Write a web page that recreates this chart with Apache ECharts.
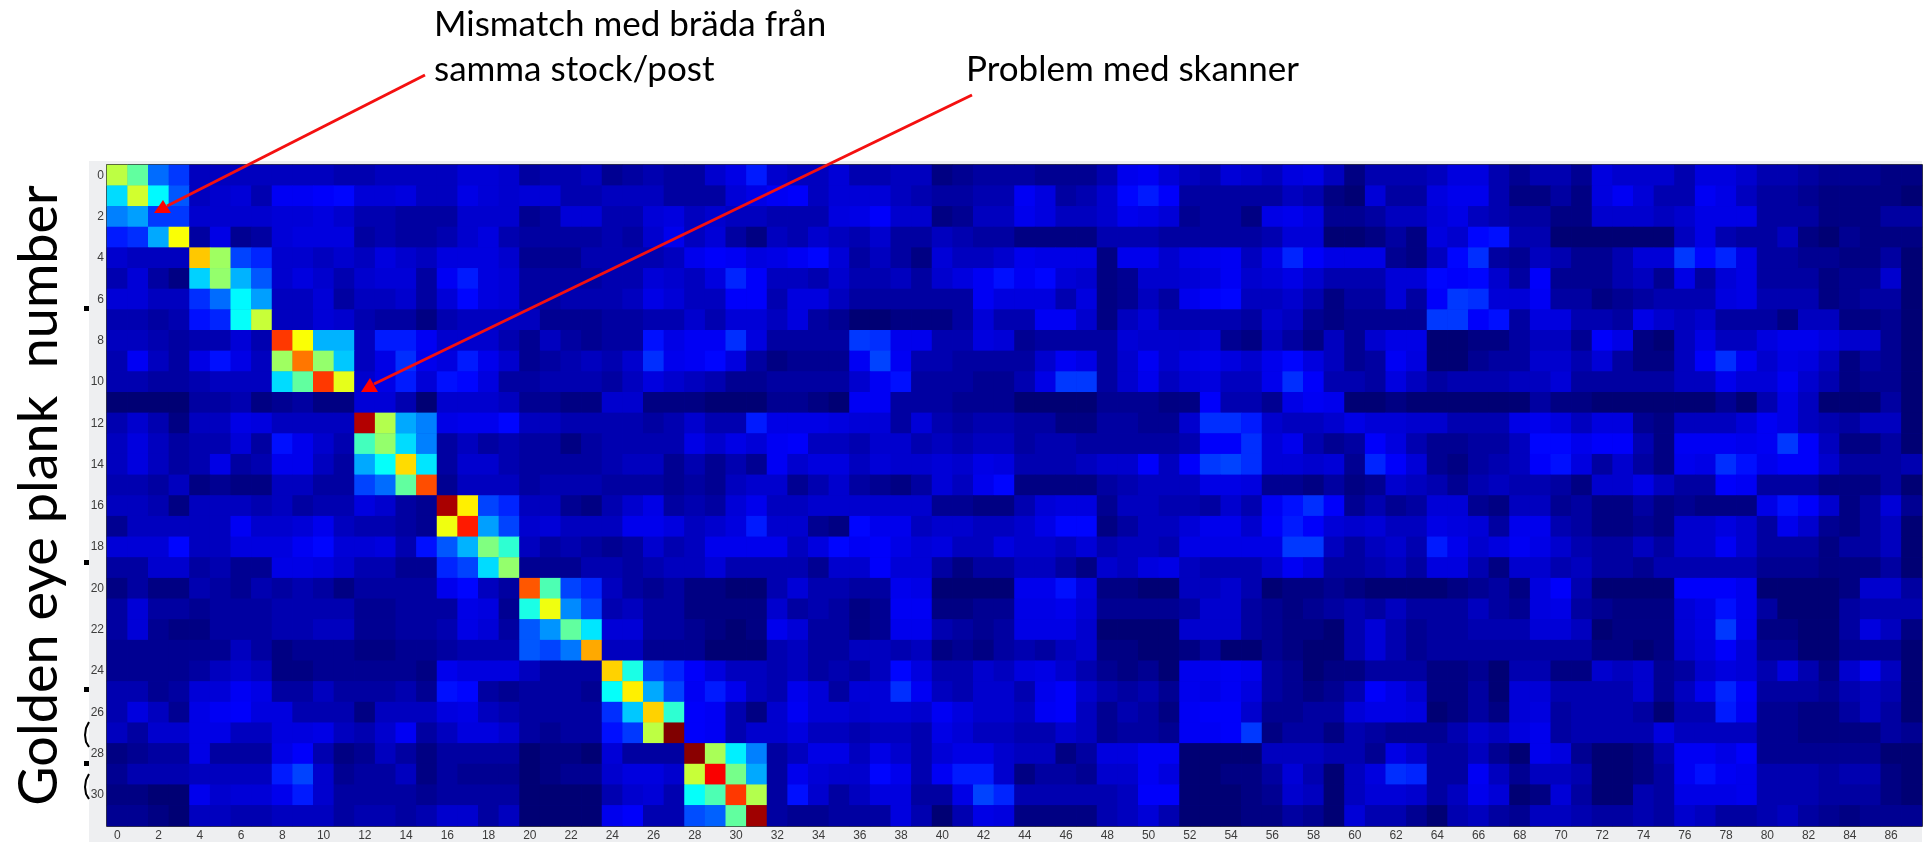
<!DOCTYPE html>
<html>
<head>
<meta charset="utf-8">
<title>Golden eye plank number</title>
<script src="https://cdn.jsdelivr.net/npm/echarts@6/dist/echarts.min.js"></script>
<style>
  html, body { margin: 0; padding: 0; background: #fff; }
  #chart { width: 1927px; height: 842px; }
</style>
</head>
<body>
<div id="chart"></div>
<script>
// values, 0-100 on the jet scale, one array per plank (row)
const row00 = [56,47,23,18, 5,5,5,5,5,5,5,4,4,5,5,5,5,7,7,6,3,4,4,5,2,3,4,3,3, 6,9,15,6,5,5,7,4,4,5,5,1,2,3,3,3,2,2,2,4,10,11,7,5,4,7,6,5,8,9, 5,1,4,4,4,5,8,8,4,2,4,4,2,8,6,6,6,4,8,8,6,4,4,3,2,2,2,1,1];
const row01 = [34,58,37,21, 5,6,7,4,11,11,12,13,7,7,8,5,5,9,7,6,7,7,4,4,5,5,5,3,3, 3,7,9,11,12,5,7,7,7,5,4,3,3,4,4,11,8,3,4,6,13,15,12,3,3,3,3,3,5,4, 1,0,7,3,3,8,10,10,4,1,1,3,1,8,11,7,4,4,11,9,5,3,3,2,1,1,1,1,0];
const row02 = [25,28,18,18, 6,6,6,6,7,7,8,6,4,4,3,3,3,6,6,6,2,3,7,7,4,4,7,8,5, 6,5,5,4,4,4,8,9,12,6,6,1,2,5,5,10,8,5,5,6,10,9,7,2,3,3,1,9,10,8, 2,2,3,5,5,7,9,5,4,3,3,1,1,6,6,6,5,6,9,9,9,3,3,3,1,1,1,3,3];
const row03 = [15,17,29,62, 3,9,2,3,7,8,8,8,3,4,3,3,4,6,8,4,3,3,3,3,4,3,6,10,5, 7,3,1,5,4,6,5,4,6,3,3,5,4,3,3,1,1,1,1,4,4,4,3,3,3,3,3,4,7,7, 0,0,1,3,1,8,6,13,14,4,4,0,0,0,0,0,0,5,9,4,3,3,5,1,0,2,1,1,1];
const row04 = [6,5,5,5, 68,53,19,16, 6,6,5,6,5,8,6,5,8,8,8,6,2,2,2,4,4,4,4,5,10, 12,11,8,9,11,13,7,3,5,3,1,7,5,5,6,10,9,9,9,1,10,10,6,9,10,11,5,9,16,12, 9,9,9,2,1,5,13,17,3,2,5,4,2,2,4,7,7,18,13,16,9,3,3,2,2,1,1,3,0];
const row05 = [4,7,3,1, 33,52,30,21, 6,8,6,4,6,7,7,3,11,15,8,7,3,3,3,3,4,4,7,6,5, 8,16,12,5,5,4,6,4,4,5,3,6,8,11,14,11,13,7,6,1,2,6,6,7,8,11,6,7,9,6, 4,4,4,7,7,13,12,13,6,3,12,2,2,2,4,5,2,9,3,7,9,3,3,3,1,2,2,6,0];
const row06 = [7,7,5,5, 17,23,37,28, 5,5,7,3,5,5,6,3,7,13,8,7,3,3,4,4,4,5,9,7,5, 5,12,12,4,8,8,5,3,3,3,3,3,3,11,8,8,8,4,8,1,2,5,3,10,12,13,5,5,6,4, 1,3,3,7,3,12,18,17,7,7,11,3,3,1,2,3,4,4,4,8,9,4,4,4,1,2,3,3,0];
const row07 = [4,4,3,4, 14,16,38,57, 5,5,7,6,4,3,3,1,4,5,5,5,5,2,2,2,3,3,4,4,6, 4,7,7,5,8,3,2,0,0,1,1,1,3,7,4,4,11,11,6,1,5,7,4,4,4,4,3,6,5,2, 1,2,2,2,2,18,18,12,14,3,8,8,4,4,3,9,6,5,6,3,3,3,1,5,5,1,1,2,0];
const row08 = [5,5,4,3,4,4,7,4, 82,62,30,30, 5,15,15,11,6,6,6,4,2,5,3,2,3,3,14,9,11, 11,17,8,3,3,3,3,18,17,10,10,4,4,8,7,2,3,3,3,3,7,6,6,6,7,2,1,5,3,1, 5,2,6,9,9,0,0,1,1,3,5,5,2,12,9,1,0,5,9,5,5,8,10,10,8,6,6,2,0];
const row09 = [4,11,5,3,9,14,9,5, 53,76,52,32, 5,9,17,10,8,15,10,6,2,3,4,5,4,6,17,10,11, 13,8,3,1,2,2,2,11,19,11,4,4,3,3,3,3,6,11,9,3,6,11,6,9,10,8,6,10,13,8, 5,2,3,11,8,0,0,2,3,3,6,6,4,7,3,1,1,5,12,17,11,6,9,8,5,1,3,2,0];
const row10 = [4,4,3,3,4,5,5,5, 34,47,82,60, 6,9,15,7,14,13,8,3,3,4,4,4,3,5,8,6,5, 4,2,2,3,3,3,3,6,11,14,3,3,3,2,2,4,9,18,18,3,6,10,5,7,8,5,5,10,17,12, 4,4,3,8,5,3,4,4,4,5,5,7,3,3,3,3,3,5,5,10,7,7,11,6,4,1,2,2,0];
const row11 = [0,0,0,0,3,3,4,1,2,3,1,1, 7,7,4,0,6,6,6,5,2,2,1,1,6,6,1,1,1, 0,0,0,2,2,1,0,11,11,3,3,3,2,2,2,0,0,0,0,2,2,2,1,1,12,4,4,2,9,11, 10,0,0,1,0,0,0,0,0,0,3,1,1,0,0,0,0,0,0,2,0,4,9,5,0,0,0,3,0];
const row12 = [4,6,4,1,5,5,9,8,5,5,5,5, 95,55,29,25, 9,10,10,13,5,5,4,4,4,4,3,4,6, 4,4,15,9,9,9,8,7,7,3,7,4,3,4,4,3,3,1,1,3,3,2,2,6,17,17,15,6,5,5, 6,9,7,7,6,6,4,4,4,9,10,8,5,8,8,2,1,5,5,5,7,11,9,5,4,3,5,5,0];
const row13 = [5,8,5,3,4,4,7,3,14,10,6,4, 44,52,34,25, 3,5,3,4,3,3,1,3,4,4,4,4,9, 6,9,7,11,12,5,5,4,6,6,4,5,4,5,5,3,4,4,3,3,3,3,3,4,12,12,17,7,10,4, 2,3,12,8,4,2,2,3,3,5,13,13,10,12,12,4,1,11,11,11,10,11,18,12,5,1,1,3,0];
const row14 = [5,8,5,3,4,9,3,4,10,10,5,3, 29,38,66,35, 3,6,6,4,3,3,3,3,4,5,5,2,4, 2,4,2,11,6,8,8,5,7,6,6,7,6,9,8,4,4,4,5,6,6,12,5,12,18,19,17,7,7,6, 7,2,16,12,7,2,1,3,4,5,12,14,8,3,6,3,1,10,9,17,14,10,12,12,6,3,3,3,4];
const row15 = [4,4,3,5,1,2,1,1,5,5,3,3, 19,23,47,80, 2,5,5,5,3,4,4,4,3,3,3,2,3, 2,5,6,6,2,4,6,3,2,1,3,7,5,10,13,1,1,1,1,3,4,5,5,5,9,9,8,2,2,1, 3,1,2,6,5,4,2,4,5,4,4,3,1,6,6,9,5,3,3,12,11,3,3,3,1,1,1,3,0];
const row16 = [5,5,4,1,5,5,5,4,5,3,4,4,8,6,3,2, 96,64,19,16, 5,5,2,1,4,6,9,3,4, 3,7,10,5,5,6,6,6,6,6,6,2,2,1,1,4,7,8,8,2,5,5,4,4,3,6,4,11,14,17, 12,2,4,2,3,7,7,2,1,5,5,2,3,1,1,3,1,2,1,1,1,9,14,12,6,1,3,7,2];
const row17 = [2,5,5,5,5,5,11,6,6,7,10,5,4,4,3,2, 61,85,28,19, 6,7,5,5,5,10,10,8,5, 6,8,15,6,6,2,1,13,10,10,5,6,6,5,5,6,9,13,13,1,3,5,5,7,10,10,6,12,15,12, 7,6,7,5,5,9,8,7,3,10,10,4,3,1,1,2,1,6,6,8,6,3,10,6,2,1,3,5,0];
const row18 = [7,7,7,13,5,5,8,8,8,11,13,7,7,8,4,14, 21,30,50,42, 5,3,4,3,2,3,6,4,5, 10,10,10,10,5,8,13,11,12,9,7,8,5,5,8,6,6,5,7,4,5,5,4,9,9,9,9,9,18,18, 5,3,5,6,4,15,10,6,8,11,9,6,4,3,3,5,3,6,6,11,6,3,3,3,1,3,3,5,0];
const row19 = [3,3,6,6,3,4,2,2,9,9,8,6,4,4,2,2, 16,19,34,52, 2,2,2,4,4,3,4,5,5, 7,4,4,4,4,2,6,6,12,7,7,3,1,3,3,5,5,3,1,6,5,8,9,5,4,4,4,6,11,8, 3,3,4,5,3,8,8,4,1,6,6,4,5,3,3,2,4,4,4,4,4,2,2,2,1,1,1,3,0];
const row20 = [1,3,1,1,4,3,2,4,3,4,3,1,3,3,3,3,10,13,5,3, 79,45,19,16, 5,3,2,3,1, 1,0,0,4,7,4,4,3,3,10,9,0,0,0,0,10,10,14,8,1,1,0,0,5,5,6,4,0,1,1, 2,1,0,0,0,0,1,2,3,1,8,12,4,0,0,0,0,12,12,12,10,0,0,0,0,1,6,6,3];
const row21 = [3,7,3,3,2,3,3,3,4,4,4,4,2,2,3,3,3,9,8,2, 40,61,26,19, 4,5,3,3,1, 1,1,1,6,3,4,3,1,2,11,11,1,1,2,2,9,9,10,7,2,2,2,2,3,6,6,3,2,1,2, 3,4,3,5,3,3,3,5,3,2,8,9,3,2,1,1,1,7,9,14,10,3,0,0,0,3,4,4,4];
const row22 = [3,7,2,1,1,3,3,3,4,4,5,5,2,2,3,3,4,9,7,3, 21,27,47,35, 7,7,3,3,2, 1,0,1,10,7,3,3,1,2,10,10,4,3,2,3,9,9,9,6,0,0,0,0,6,6,6,3,2,1,1, 0,4,7,4,2,3,3,4,4,4,7,7,5,0,1,1,1,7,9,18,10,1,1,0,0,3,8,5,1];
const row23 = [2,2,2,2,2,2,5,3,1,2,2,2,1,1,2,2,3,4,4,4, 21,19,24,71, 5,5,2,2,2, 0,0,0,4,5,3,3,5,5,4,5,1,2,1,3,4,3,5,6,1,1,0,0,1,3,0,0,2,1,0, 0,4,7,4,2,3,3,3,3,3,3,3,3,1,1,0,1,6,8,12,7,2,2,0,0,2,2,2,0];
const row24 = [2,2,2,2,3,5,6,5,1,1,2,2,2,2,2,1,10,8,8,8,5,3,3,3, 67,40,19,16, 12, 8,5,5,4,5,3,4,3,5,13,8,4,4,6,5,8,9,6,4,2,1,2,0,10,10,11,10,3,2,0, 1,1,3,3,3,1,1,2,0,4,4,1,1,6,5,6,2,3,6,8,7,4,8,4,1,6,11,5,0];
const row25 = [4,4,2,3,7,7,11,9,3,3,5,3,3,3,4,2,14,13,3,2,3,3,3,2, 38,64,29,19, 11, 15,10,5,4,10,7,3,7,7,17,11,5,4,6,6,4,10,12,6,4,3,4,2,10,9,11,8,3,2,1, 2,4,12,9,6,1,1,3,0,7,7,4,4,4,4,6,2,5,10,16,12,3,3,3,2,4,5,4,0];
const row26 = [4,8,5,2,9,11,12,8,8,4,4,4,1,5,5,5,8,9,5,4,3,3,3,3, 17,32,67,42, 12, 11,4,1,6,11,7,7,6,7,7,6,11,8,6,6,5,11,12,5,2,4,3,1,11,12,12,6,2,2,3, 3,7,9,9,8,0,1,3,1,7,8,3,4,4,4,3,0,4,4,15,11,2,2,1,1,3,5,3,0];
const row27 = [5,3,6,6,9,9,5,5,8,8,9,5,4,6,11,3,5,8,8,6,3,2,3,3, 14,18,56,100, 12, 11,4,6,6,8,5,5,4,5,5,4,9,7,5,5,4,4,6,5,2,3,3,2,11,11,12,18,1,3,3, 1,4,3,2,2,2,4,6,5,8,10,3,4,4,4,4,8,5,5,5,5,2,2,1,1,1,1,3,2];
const row28 = [1,2,3,3,9,3,3,3,9,12,4,1,2,5,3,1,3,3,3,3,0,1,1,0,7,3,3,3, 99,54,36,25, 3,5,9,9,5,9,6,4,7,9,9,6,5,5,1,3,8,8,11,11,0,0,0,0,5,5,5, 4,4,2,9,6,3,3,5,2,0,10,8,2,0,0,1,4,11,11,9,12,2,2,2,2,2,2,0,0];
const row29 = [2,4,4,4,5,5,5,5,15,19,6,2,3,3,5,1,3,2,2,2,0,1,2,2,6,8,8,6, 57,88,49,29, 3,10,7,6,6,13,10,4,11,15,15,6,1,3,3,2,6,6,11,8,0,0,1,1,3,7,4, 0,5,8,17,16,3,3,11,5,2,5,5,4,0,0,1,3,11,14,11,10,4,4,4,3,4,4,1,0];
const row30 = [1,1,0,0,10,6,7,7,10,15,6,3,3,3,3,2,3,3,3,3,0,0,0,0,4,6,7,4, 38,45,82,55, 3,14,6,3,5,8,8,3,3,9,19,16,4,4,4,4,4,5,12,12,0,0,0,1,2,6,5, 0,5,7,7,6,3,5,10,7,0,1,7,3,0,0,4,3,9,9,9,10,4,4,4,3,3,3,1,0];
const row31 = [2,2,1,0,5,5,4,4,5,5,5,3,4,4,3,4,6,6,3,5,0,0,0,0,10,12,4,4, 20,22,47,97, 3,2,2,3,3,3,8,4,0,4,9,8,1,1,1,1,4,5,7,4,0,0,0,1,1,3,2, 0,7,4,4,2,0,4,5,3,2,5,5,4,3,3,4,3,6,5,3,3,4,5,3,2,1,2,2,2];

const rowValues = [
  row00, row01, row02, row03, row04, row05, row06, row07,
  row08, row09, row10, row11, row12, row13, row14, row15,
  row16, row17, row18, row19, row20, row21, row22, row23,
  row24, row25, row26, row27, row28, row29, row30, row31,
];

const colLabels = Array.from({ length: 88 }, (_, i) => String(i));
const rowLabels = Array.from({ length: 32 }, (_, i) => String(i));

const yTitle = "Golden eye plank  number";
const note1 = "Mismatch med bräda från";
const note2 = "samma stock/post";
const note3 = "Problem med skanner";

// jet, with a brighter low end: the stops are spaced 6.25 apart
const jetColors = [
  "#000074", "#0000d2", "#0000ff", "#0040ff", "#0080ff", "#00c0ff", "#00ffff", "#40ffc0", "#80ff80",
  "#c0ff40", "#ffff00", "#ffc000", "#ff8000", "#ff4000", "#ff0000", "#c00000", "#800000",
];

const cells = [];
rowValues.forEach((row, y) => {
  row.forEach((v, x) => {
    cells.push([x, y, v]);
  });
});

const noteFont = '35px Lato, "Noto Sans", sans-serif';

const chart = echarts.init(document.getElementById("chart"));
chart.setOption({
  animation: false,
  backgroundColor: "#fff",
  grid: {
    show: true,
    outerBoundsMode: "none",
    left: 107,
    top: 165,
    width: 1815,
    height: 661,
    borderColor: "#000",
    borderWidth: 1.5,
    backgroundColor: "#0000b4", // hides the seams between cells
  },
  xAxis: {
    type: "category",
    data: colLabels,
    axisLine: { show: false },
    axisTick: { show: false },
    splitLine: { show: false },
    splitArea: { show: false },
    axisLabel: {
      interval: 1,
      margin: 4,
      fontSize: 12,
      fontFamily: "Liberation Sans",
      color: "#3c3c3c",
    },
  },
  yAxis: {
    type: "category",
    data: rowLabels,
    inverse: true,
    axisLine: { show: false },
    axisTick: { show: false },
    splitLine: { show: false },
    splitArea: { show: false },
    axisLabel: {
      interval: 1,
      margin: 3,
      fontSize: 12,
      fontFamily: "Liberation Sans",
      color: "#3c3c3c",
    },
    name: yTitle,
    nameLocation: "middle",
    nameRotate: 90,
    nameGap: 40,
    nameTextStyle: {
      fontSize: 54,
      fontFamily: "Lato",
      color: "#000",
    },
  },
  visualMap: {
    show: false,
    min: 0,
    max: 100,
    inRange: { color: jetColors },
  },
  series: [
    {
      type: "heatmap",
      data: cells,
      progressive: 0,
      emphasis: { disabled: true },
    },
  ],
  graphic: [
    // grey panel behind the plot
    { type: "rect", z: -10, silent: true, shape: { x: 89, y: 161, width: 1833, height: 681 }, style: { fill: "#eeeff1" } },
    { type: "text", x: 434, y: 7, style: { text: note1, font: noteFont, fill: "#000" } },
    { type: "text", x: 434, y: 52, style: { text: note2, font: noteFont, fill: "#000" } },
    { type: "text", x: 966, y: 52, style: { text: note3, font: noteFont, fill: "#000" } },
    // arrows
    { type: "line", z: 50, shape: { x1: 425, y1: 75, x2: 167, y2: 206 }, style: { stroke: "#f41010", lineWidth: 3 } },
    { type: "polygon", z: 50, shape: { points: [[163, 200], [154, 213], [171, 213]] }, style: { fill: "#ff0000" } },
    { type: "line", z: 50, shape: { x1: 972, y1: 95, x2: 374, y2: 384 }, style: { stroke: "#f41010", lineWidth: 3 } },
    { type: "polygon", z: 50, shape: { points: [[370, 378], [361, 392], [378, 392]] }, style: { fill: "#ff0000" } },
    // leftovers of covered text at the panel edge
    { type: "rect", shape: { x: 84, y: 306, width: 5, height: 5 }, style: { fill: "#000" } },
    { type: "rect", shape: { x: 84, y: 560, width: 5, height: 5 }, style: { fill: "#000" } },
    { type: "rect", shape: { x: 84, y: 687, width: 5, height: 5 }, style: { fill: "#000" } },
    { type: "rect", shape: { x: 84, y: 761, width: 5, height: 5 }, style: { fill: "#000" } },
    { type: "polyline", shape: { points: [[89, 722], [86, 728], [85, 735], [86, 742], [89, 747]] }, style: { stroke: "#000", fill: null, lineWidth: 2 } },
    { type: "polyline", shape: { points: [[89, 774], [86, 780], [85, 787], [86, 794], [89, 799]] }, style: { stroke: "#000", fill: null, lineWidth: 2 } },
  ],
});
</script>
</body>
</html>
